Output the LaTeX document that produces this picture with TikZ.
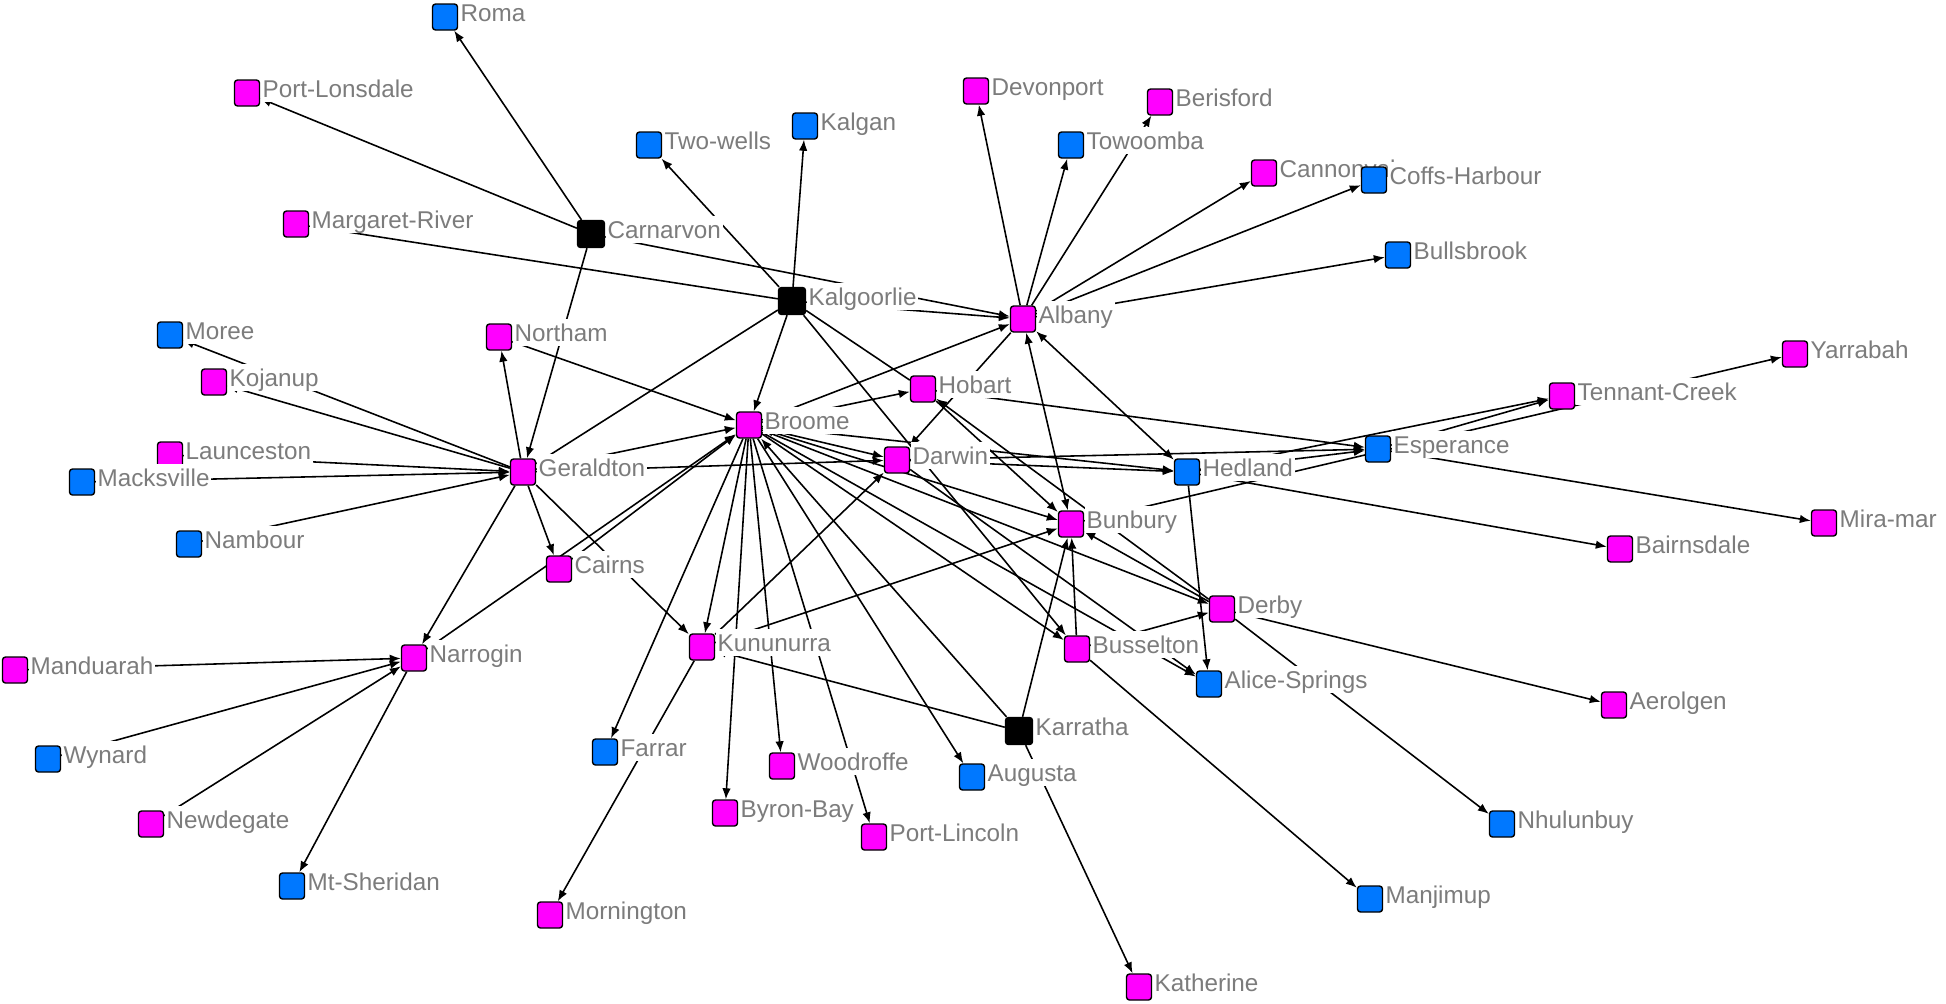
\documentclass[tikz,border=0pt]{standalone}
\usepackage{fontspec}
\newfontfamily\cityfont{Liberation Sans}
\usetikzlibrary{arrows.meta,backgrounds}
\definecolor{citymag}{HTML}{FF00FF}
\definecolor{cityblue}{HTML}{0078FF}
\definecolor{labelgray}{HTML}{7C7C7C}

\begin{document}
\begin{tikzpicture}[x=0.1mm, y=-0.1mm,
  town/.style={draw=black, line width=0.4pt, rounded corners=0.3mm, minimum width=2.5mm, minimum height=2.6mm, inner sep=0pt, label distance=0.55mm},
  mag/.style={town, fill=citymag},
  blu/.style={town, fill=cityblue},
  hub/.style={town, fill=black, minimum width=2.7mm, minimum height=2.7mm},
  lbl/.style={fill=white, text=labelgray, font=\cityfont\fontsize{6.9}{7}\selectfont, inner xsep=0.5pt, inner ysep=0.15mm, text height=2.1mm, text depth=0.25mm, anchor=base west, yshift=-0.45mm},
  link/.style={line width=0.45pt, -{Latex[length=1.1mm, width=0.85mm]}},
  both/.style={line width=0.45pt, {Latex[length=1.1mm, width=0.85mm]}-{Latex[length=1.1mm, width=0.85mm]}},
  plain/.style={line width=0.45pt}]
  \useasboundingbox (0,0) rectangle (1946,1003);

  \node[blu, label={[lbl]right:Roma}] (roma) at (445,17) {};
  \node[mag, label={[lbl]right:Port-Lonsdale}] (portlons) at (247,93) {};
  \node[mag, label={[lbl]right:Margaret-River}] (margriv) at (296,224) {};
  \node[hub, label={[lbl]right:Carnarvon}] (carnarvon) at (591,234) {};
  \node[blu, label={[lbl]right:Two-wells}] (twowells) at (649,145) {};
  \node[blu, label={[lbl]right:Kalgan}] (kalgan) at (805,126) {};
  \node[mag, label={[lbl]right:Devonport}] (devonport) at (976,91) {};
  \node[mag, label={[lbl]right:Berisford}] (berisford) at (1160,102) {};
  \node[blu, label={[lbl]right:Towoomba}] (towoomba) at (1071,145) {};
  \node[mag, label={[lbl]right:Cannonvale}] (cannonvale) at (1264,173) {};
  \node[blu, label={[lbl]right:Coffs-Harbour}] (coffs) at (1374,180) {};
  \node[blu, label={[lbl]right:Bullsbrook}] (bullsbrook) at (1398,255) {};
  \node[hub, label={[lbl]right:Kalgoorlie}] (kalgoorlie) at (792,301) {};
  \node[mag, label={[lbl]right:Albany}] (albany) at (1023,319) {};
  \node[blu, label={[lbl]right:Moree}] (moree) at (170,335) {};
  \node[mag, label={[lbl]right:Northam}] (northam) at (499,337) {};
  \node[mag, label={[lbl]right:Kojanup}] (kojanup) at (214,382) {};
  \node[mag, label={[lbl]right:Hobart}] (hobart) at (923,389) {};
  \node[mag, label={[lbl]right:Broome}] (broome) at (749,425) {};
  \node[mag, label={[lbl]right:Launceston}] (launceston) at (170,455) {};
  \node[blu, label={[lbl]right:Macksville}] (macksville) at (82,482) {};
  \node[mag, label={[lbl]right:Geraldton}] (geraldton) at (523,472) {};
  \node[mag, label={[lbl]right:Darwin}] (darwin) at (897,460) {};
  \node[blu, label={[lbl]right:Hedland}] (hedland) at (1187,472) {};
  \node[blu, label={[lbl]right:Esperance}] (esperance) at (1378,449) {};
  \node[mag, label={[lbl]right:Tennant-Creek}] (tennant) at (1562,396) {};
  \node[mag, label={[lbl]right:Yarrabah}] (yarrabah) at (1795,354) {};
  \node[mag, label={[lbl]right:Mira-mar}] (miramar) at (1824,523) {};
  \node[mag, label={[lbl]right:Bairnsdale}] (bairnsdale) at (1620,549) {};
  \node[mag, label={[lbl]right:Bunbury}] (bunbury) at (1071,524) {};
  \node[blu, label={[lbl]right:Nambour}] (nambour) at (189,544) {};
  \node[mag, label={[lbl]right:Cairns}] (cairns) at (559,569) {};
  \node[mag, label={[lbl]right:Derby}] (derby) at (1222,609) {};
  \node[mag, label={[lbl]right:Busselton}] (busselton) at (1077,649) {};
  \node[mag, label={[lbl]right:Kununurra}] (kununurra) at (702,647) {};
  \node[mag, label={[lbl]right:Narrogin}] (narrogin) at (414,658) {};
  \node[mag, label={[lbl]right:Manduarah}] (manduarah) at (15,670) {};
  \node[blu, label={[lbl]right:Alice-Springs}] (alice) at (1209,684) {};
  \node[mag, label={[lbl]right:Aerolgen}] (aerolgen) at (1614,705) {};
  \node[hub, label={[lbl]right:Karratha}] (karratha) at (1019,731) {};
  \node[blu, label={[lbl]right:Wynard}] (wynard) at (48,759) {};
  \node[blu, label={[lbl]right:Farrar}] (farrar) at (605,752) {};
  \node[mag, label={[lbl]right:Woodroffe}] (woodroffe) at (782,766) {};
  \node[blu, label={[lbl]right:Augusta}] (augusta) at (972,777) {};
  \node[mag, label={[lbl]right:Newdegate}] (newdegate) at (151,824) {};
  \node[mag, label={[lbl]right:Byron-Bay}] (byron) at (725,813) {};
  \node[mag, label={[lbl]right:Port-Lincoln}] (portlincoln) at (874,837) {};
  \node[blu, label={[lbl]right:Nhulunbuy}] (nhulunbuy) at (1502,824) {};
  \node[blu, label={[lbl]right:Mt-Sheridan}] (mtsheridan) at (292,886) {};
  \node[mag, label={[lbl]right:Mornington}] (mornington) at (550,915) {};
  \node[blu, label={[lbl]right:Manjimup}] (manjimup) at (1370,899) {};
  \node[mag, label={[lbl]right:Katherine}] (katherine) at (1139,987) {};

  \begin{scope}[on background layer]
  \fill[white] (0,0) rectangle (1946,1003);
  \draw[link] (carnarvon) -- (roma);
  \draw[link] (carnarvon) -- (portlons);
  \draw[link] (carnarvon) -- (geraldton);
  \draw[link] (carnarvon) -- (albany);
  \draw[plain] (margriv) -- (kalgoorlie);
  \draw[link] (kalgoorlie) -- (twowells);
  \draw[link] (kalgoorlie) -- (kalgan);
  \draw[link] (kalgoorlie) -- (albany);
  \draw[link] (kalgoorlie) -- (broome);
  \draw[plain] (geraldton) -- (kalgoorlie);
  \draw[plain] (kalgoorlie) -- (hobart);
  \draw[link] (kalgoorlie) -- (busselton);
  \draw[link] (albany) -- (devonport);
  \draw[link] (albany) -- (towoomba);
  \draw[link] (albany) -- (berisford);
  \draw[link] (albany) -- (cannonvale);
  \draw[link] (albany) -- (coffs);
  \draw[link] (albany) -- (bullsbrook);
  \draw[both] (albany) -- (hedland);
  \draw[both] (albany) -- (bunbury);
  \draw[link] (albany) -- (darwin);
  \draw[link] (broome) -- (albany);
  \draw[link] (geraldton) -- (northam);
  \draw[link] (geraldton) -- (kojanup);
  \draw[link] (geraldton) -- (moree);
  \draw[link] (launceston) -- (geraldton);
  \draw[link] (macksville) -- (geraldton);
  \draw[link] (nambour) -- (geraldton);
  \draw[link] (geraldton) -- (cairns);
  \draw[link] (geraldton) -- (narrogin);
  \draw[link] (geraldton) -- (kununurra);
  \draw[link] (geraldton) -- (broome);
  \draw[link] (geraldton) -- (darwin);
  \draw[link] (northam) -- (broome);
  \draw[link] (cairns) -- (broome);
  \draw[link] (narrogin) -- (broome);
  \draw[link] (narrogin) -- (mtsheridan);
  \draw[link] (manduarah) -- (narrogin);
  \draw[link] (wynard) -- (narrogin);
  \draw[link] (newdegate) -- (narrogin);
  \draw[link] (kununurra) -- (mornington);
  \draw[link] (kununurra) -- (darwin);
  \draw[link] (kununurra) -- (bunbury);
  \draw[link] (broome) -- (farrar);
  \draw[link] (broome) -- (kununurra);
  \draw[link] (broome) -- (byron);
  \draw[link] (broome) -- (woodroffe);
  \draw[link] (broome) -- (portlincoln);
  \draw[link] (broome) -- (augusta);
  \draw[link] (karratha) -- (broome);
  \draw[link] (broome) -- (hobart);
  \draw[link] (broome) -- (darwin);
  \draw[link] (broome) -- (hedland);
  \draw[both] (broome) -- (bunbury);
  \draw[link] (broome) -- (derby);
  \draw[link] (broome) -- (busselton);
  \draw[link] (broome) -- (alice);
  \draw[link] (darwin) -- (hedland);
  \draw[link] (darwin) -- (esperance);
  \draw[link] (darwin) -- (alice);
  \draw[link] (hobart) -- (esperance);
  \draw[link] (hobart) -- (bunbury);
  \draw[link] (derby) -- (hobart);
  \draw[link] (derby) -- (bunbury);
  \draw[link] (derby) -- (aerolgen);
  \draw[link] (derby) -- (nhulunbuy);
  \draw[link] (busselton) -- (bunbury);
  \draw[link] (busselton) -- (derby);
  \draw[link] (busselton) -- (manjimup);
  \draw[link] (karratha) -- (bunbury);
  \draw[link] (karratha) -- (kununurra);
  \draw[link] (karratha) -- (katherine);
  \draw[link] (hedland) -- (esperance);
  \draw[link] (hedland) -- (tennant);
  \draw[link] (hedland) -- (bairnsdale);
  \draw[link] (hedland) -- (alice);
  \draw[link] (esperance) -- (tennant);
  \draw[link] (esperance) -- (miramar);
  \draw[link] (bunbury) -- (yarrabah);
  \end{scope}
\end{tikzpicture}
\end{document}
